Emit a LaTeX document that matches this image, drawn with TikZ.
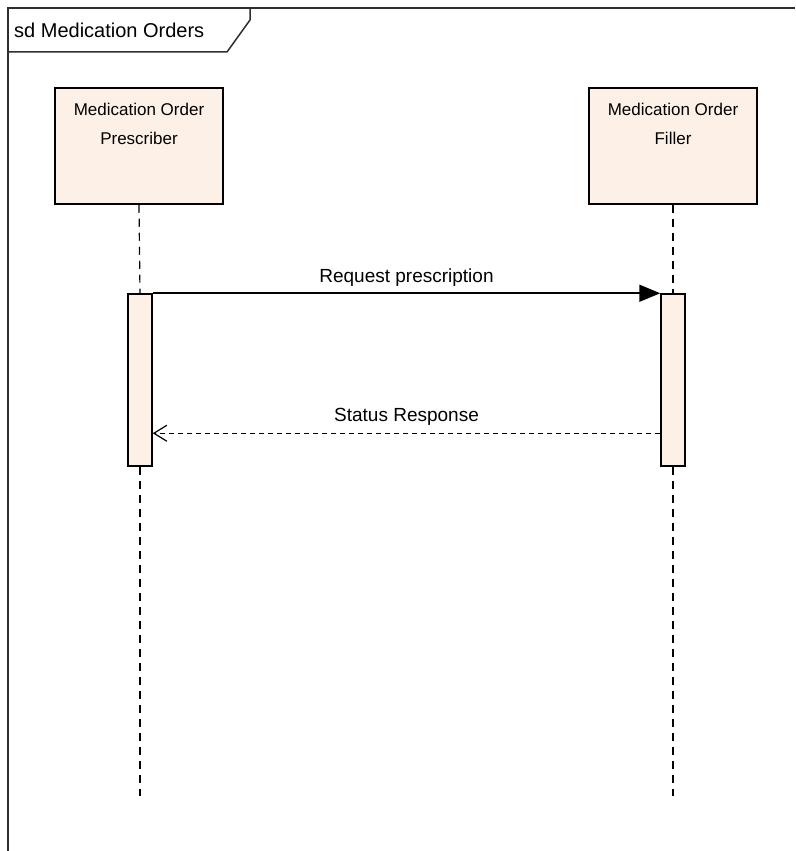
\documentclass[tikz,border=0pt]{standalone}
\usepackage{fontspec}
\setmainfont{Liberation Sans}
\usetikzlibrary{arrows.meta,positioning}
\definecolor{actorfill}{HTML}{FDF1E7}
\definecolor{framegray}{HTML}{2E2E2E}

\begin{document}
\begin{tikzpicture}[x=1pt, y=-1pt,
  actor/.style={rectangle, draw=black, line width=1.5pt, fill=actorfill,
                minimum width=168pt, minimum height=116pt, inner sep=0pt},
  actortext/.style={font=\fontsize{17}{29}\selectfont, align=center, inner sep=0pt},
  activation/.style={rectangle, draw=black, line width=1.5pt, fill=actorfill,
                     minimum width=24pt, minimum height=172pt, inner sep=0pt},
  lifeline/.style={line width=1.2pt, dash pattern=on 8pt off 6pt},
  call/.style={-{Triangle[length=21pt,width=17pt]}, line width=1.8pt},
  reply/.style={-{Straight Barb[length=13pt,width=16pt]}, line width=1.2pt,
                dash pattern=on 5pt off 4pt},
  msglabel/.style={font=\fontsize{19}{21}\selectfont, inner sep=0pt},
]
  \useasboundingbox (0,0) rectangle (795,851);

  % frame and its tab
  \draw[framegray, line width=2.4pt] (795,8) -- (8,8) -- (8,851);
  \draw[framegray, line width=1.5pt] (8,52) -- (227,52) -- (250,20) -- (250,8);
  \node[anchor=base west, inner sep=0pt, font=\fontsize{20}{22}\selectfont] (title) at (14,38) {sd Medication Orders};

  % actors
  \node[actor] (prescriber) at (139,146) {};
  \node[actor] (filler) at (673,146) {};
  \node[actortext, below=16pt of prescriber.north] (prescribertext) {Medication Order\\Prescriber};
  \node[actortext, below=16pt of filler.north] (fillertext) {Medication Order\\Filler};

  % activations
  \node[activation] (act1) at (140,380) {};
  \node[activation] (act2) at (673,380) {};

  % lifelines
  \coordinate (end1) at (140,796);
  \coordinate (end2) at (673,796);
  \draw[lifeline] (prescriber.south) -- (act1.north);
  \draw[lifeline] (filler.south) -- (act2.north);
  \draw[lifeline] (act1.south) -- (end1);
  \draw[lifeline] (act2.south) -- (end2);

  % messages
  \draw[call] (act1.north east) -- node[msglabel, above=6pt] (request) {Request prescription} (act2.north west);
  \path (act2.north west) ++(0,140) coordinate (replystart);
  \draw[reply] (replystart) -- node[msglabel, above=7pt] (status) {Status Response} (replystart -| act1.east);
\end{tikzpicture}
\end{document}
